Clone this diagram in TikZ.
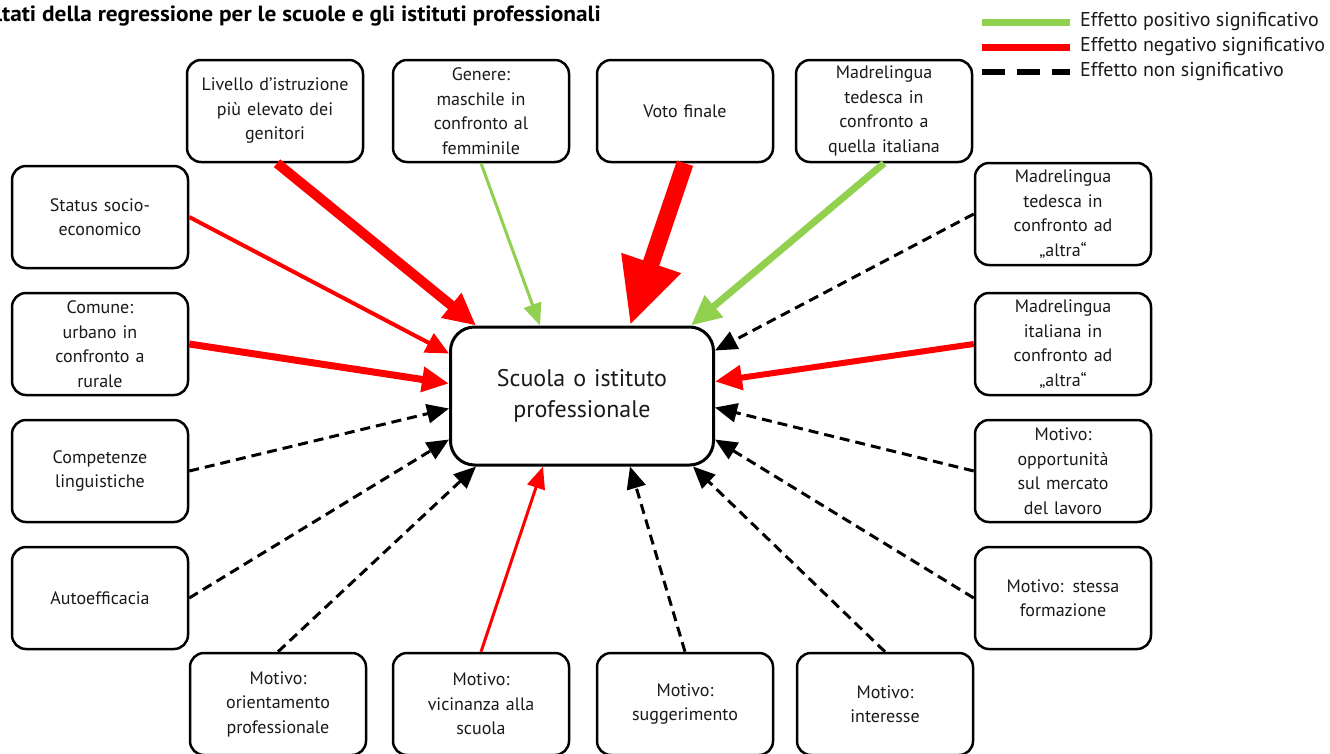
\documentclass[tikz,border=0pt]{standalone}
\usepackage{fontspec}
\setmainfont{PT Sans}
\newfontfamily\titlefont[FakeStretch=1.06]{PT Sans}
\usepackage{tikz}
\usetikzlibrary{calc,arrows.meta}
\definecolor{RGreen}{HTML}{92D050}
\definecolor{RRed}{HTML}{FF0000}
\definecolor{RInk}{HTML}{1A1A1A}

\tikzset{
  factor/.style={draw, line width=2.5pt, rounded corners=14pt, fill=white, text=RInk,
    minimum width=176pt, minimum height=102pt, text width=164pt, inner xsep=6pt,
    align=center, font=\fontsize{18}{24.5}\selectfont},
  target/.style={draw, line width=3pt, rounded corners=24pt, fill=white, text=RInk,
    minimum width=263pt, minimum height=138pt, text width=240pt, inner xsep=11.5pt,
    align=center, font=\fontsize{24}{31}\selectfont},
  pos/.style n args={3}{draw=RGreen, line width=#1, -{Triangle[length=#2,width=#3]}},
  neg/.style n args={3}{draw=RRed, line width=#1, -{Triangle[length=#2,width=#3]}},
  nsig/.style={draw=black, line width=3pt, dash pattern=on 10pt off 6pt,
    -{Triangle[length=22pt,width=19pt]}},
  legtext/.style={anchor=west, inner sep=0pt, text=RInk, font=\fontsize{20}{22}\selectfont}
}

\begin{document}
\begin{tikzpicture}[x=1pt,y=-1pt]
  \useasboundingbox[fill=white] (0,0) rectangle (1330,753);

  % title, cut at the left edge
  \node[anchor=base east, inner sep=0pt, text=black,
    font=\titlefont\bfseries\fontsize{22}{24}\selectfont] (title) at (601,21)
    {Risultati della regressione per le scuole e gli istituti professionali};

  % legend
  \node[legtext] (lgpos) at (1080,22) {Effetto positivo significativo};
  \node[legtext] (lgneg) at (1080,47) {Effetto negativo significativo};
  \node[legtext] (lgns)  at (1080,72) {Effetto non significativo};
  \draw[RGreen, line width=7pt] ($(lgpos.west)+(-98,0)$) -- ($(lgpos.west)+(-10,0)$);
  \draw[RRed, line width=7pt] ($(lgneg.west)+(-98,0)$) -- ($(lgneg.west)+(-10,0)$);
  \draw[black, line width=6pt, dash pattern=on 23pt off 12pt] ($(lgns.west)+(-98,0)$) -- ($(lgns.west)+(-10,0)$);

  % outcome
  \node[target] (ctr) at (582,396) {Scuola o istituto\\professionale};

  % top row
  \node[factor] (livello) at (275,111) {Livello d'istruzione\\più elevato dei\\genitori};
  \node[factor] (genere)  at (481,111) {Genere:\\maschile in\\confronto al\\femminile};
  \node[factor] (voto)    at (685,111) {Voto finale};
  \node[factor] (tedita)  at (884,111) {Madrelingua\\tedesca in\\confronto a\\quella italiana};

  % left column
  \node[factor] (status)  at (100,217) {Status socio-\\economico};
  \node[factor] (comune)  at (100,344) {Comune:\\urbano in\\confronto a\\rurale};
  \node[factor] (compet)  at (100,471) {Competenze\\linguistiche};
  \node[factor] (autoeff) at (100,598) {Autoefficacia};

  % right column
  \node[factor] (tedaltra) at (1063,214) {Madrelingua\\tedesca in\\confronto ad\\„altra“};
  \node[factor] (itaaltra) at (1063,344) {Madrelingua\\italiana in\\confronto ad\\„altra“};
  \node[factor] (opport)   at (1063,471) {Motivo:\\opportunità\\sul mercato\\del lavoro};
  \node[factor] (stessa)   at (1063,598) {Motivo: stessa\\formazione};

  % bottom row
  \node[factor] (orient) at (278,704) {Motivo:\\orientamento\\professionale};
  \node[factor] (vicin)  at (481,704) {Motivo:\\vicinanza alla\\scuola};
  \node[factor] (sugger) at (685,704) {Motivo:\\suggerimento};
  \node[factor] (inter)  at (885,704) {Motivo:\\interesse};

  % effects
  \draw[neg={10pt}{32pt}{30pt}] ([xshift=2pt]livello.south) -- ($(ctr.north west)+(27,0)$);
  \draw[pos={3pt}{22pt}{18pt}] (genere.south) -- ($(ctr.north west)+(91,0)$);
  \draw[neg={17pt}{66pt}{58pt}] (voto.south) -- ($(ctr.north west)+(181,0)$);
  \draw[pos={7pt}{30pt}{27pt}] (tedita.south) -- ($(ctr.north east)+(-24,0)$);
  \draw[neg={4pt}{23pt}{21pt}] (status.east) -- ($(ctr.north west)+(0,28)$);
  \draw[neg={7pt}{27pt}{24pt}] (comune.east) -- ($(ctr.north west)+(0,58)$);
  \draw[nsig] (compet.east) -- ($(ctr.north west)+(0,83)$);
  \draw[nsig] (autoeff.east) -- ($(ctr.north west)+(0,114)$);
  \draw[nsig] (tedaltra.west) -- ($(ctr.north east)+(0,25)$);
  \draw[neg={6pt}{27pt}{24pt}] (itaaltra.west) -- ($(ctr.north east)+(0,56)$);
  \draw[nsig] (opport.west) -- ($(ctr.north east)+(0,82)$);
  \draw[nsig] (stessa.west) -- ($(ctr.north east)+(0,114)$);
  \draw[nsig] (orient.north) -- ($(ctr.south west)+(27,0)$);
  \draw[neg={3pt}{22pt}{18pt}] (vicin.north) -- ($(ctr.south west)+(94,0)$);
  \draw[nsig] (sugger.north) -- ($(ctr.south west)+(181,0)$);
  \draw[nsig] (inter.north) -- ($(ctr.south east)+(-22,0)$);
\end{tikzpicture}
\end{document}
